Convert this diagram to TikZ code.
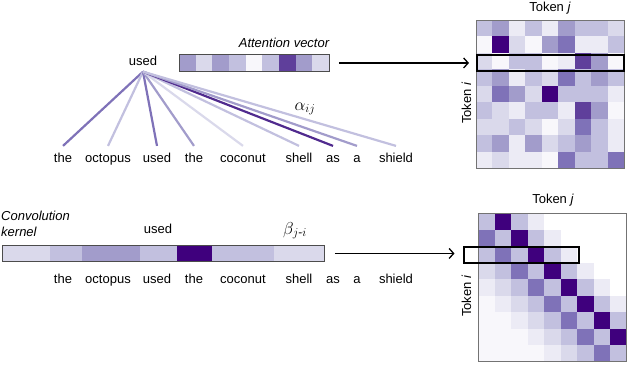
\documentclass[tikz,border=0pt]{standalone}
\usepackage{amsmath}
\usepackage{fontspec}
\setmainfont{Liberation Sans}
\usetikzlibrary{arrows.meta}
% Purples scale, light to dark
\definecolor{puw}{HTML}{FFFFFF}
\definecolor{pu0}{HTML}{F8F7FB}
\definecolor{pu1}{HTML}{ECEBF5}
\definecolor{pu2}{HTML}{DAD9EB}
\definecolor{pu3}{HTML}{C2C0DF}
\definecolor{pu4}{HTML}{A29CCB}
\definecolor{pu5}{HTML}{7F72B8}
\definecolor{pu6}{HTML}{5F3F9B}
\definecolor{pu7}{HTML}{502A8E}
\definecolor{pu8}{HTML}{3F007D}
\tikzset{
  word/.style={font=\fontsize{13}{15}\selectfont, anchor=base, inner xsep=1pt,
    inner ysep=6.5pt, text height=9.4pt, text depth=0pt},
  ital/.style={font=\fontsize{13}{16}\selectfont\itshape},
  bar/.style={draw=black!70, line width=0.9pt, inner sep=0pt},
  rowbox/.style={draw=black, line width=2.4pt, inner sep=0pt},
  frame/.style={draw=black!55, line width=0.9pt},
  arr/.style={line width=1.3pt, -{Straight Barb[length=4.5pt,width=10pt]}},
  wt/.style={line width=2.2pt}
}
\begin{document}
\begin{tikzpicture}[x=1pt, y=-1pt]
  \useasboundingbox (0,0) rectangle (640,380);
  \def\cs{16.45}
  \def\ds{16.5}

  % attention: query word and the sentence
  \node[word] (src) at (143,65) {used};
  \foreach \x/\w [count=\k] in {63/the, 108/octopus, 157/used, 194/the, 243/coconut,
      299/shell, 333/as, 357/a, 396/shield}
    \node[word] (t\k) at (\x,162) {\w};
  \foreach \k/\c in {1/pu5, 2/pu3, 3/pu5, 4/pu4, 5/pu2, 6/pu3, 7/pu7, 8/pu4, 9/pu3}
    \draw[wt, \c] (src.south) -- (t\k.north);
  \node[font=\fontsize{17}{20}\selectfont, anchor=base] (alpha) at (305,110) {$\alpha_{ij}$};

  % attention vector
  \foreach \v [count=\j from 0] in {4,2,4,3,0,3,6,4,2}
    \fill[pu\v] ({179+\j*16.67},54) rectangle ++(16.67,17);
  \node[bar, minimum width=150pt, minimum height=17pt, anchor=north west] (attbar) at (179,54) {};
  \node[ital, anchor=base] (attlbl) at (284,47) {Attention vector};

  % attention matrix
  \foreach \row [count=\i from 0] in {
      {3,4,1,3,1,4,3,3,2},
      {0,8,2,0,4,5,1,1,3},
      {2,0,3,3,0,1,6,4,0},
      {3,4,1,3,2,5,3,4,3},
      {2,5,4,2,8,3,3,3,1},
      {3,2,1,3,3,1,6,4,0},
      {2,2,3,2,0,2,5,3,1},
      {3,4,1,4,2,3,4,3,1},
      {1,2,1,1,0,5,3,3,5}}
    \foreach \v [count=\j from 0] in \row
      \fill[pu\v] ({476+\j*\cs},{20+\i*\cs}) rectangle ++(\cs,\cs);
  \draw[frame] (476,20) rectangle ++({9*\cs},{9*\cs});
  \node[rowbox, minimum width=147pt, minimum height=16.5pt, anchor=north west] (rowA) at (476,53.5) {};
  \node[word, inner ysep=0pt] (tjA) at (550,11) {Token \textit{j}};
  \node[word, inner ysep=0pt, rotate=90] (tiA) at (471,103) {Token \textit{i}};
  \draw[arr, shorten <=9pt, shorten >=7pt] (attbar.east) -- (attbar.east -| rowA.west);

  % convolution kernel
  \foreach \a/\b/\v in {2/50/2, 50/82/3, 82/140/4, 140/177/3, 177/212/8, 212/274/3, 274/324/2}
    \fill[pu\v] (\a,245) rectangle (\b,261);
  \node[bar, minimum width=322pt, minimum height=16pt, anchor=north west] (kernbar) at (2,245) {};
  \node[ital, align=left, anchor=north west, inner sep=0pt] (convlbl) at (1,211) {Convolution\\kernel};
  \node[word] (cused) at (158,233) {used};
  \node[font=\fontsize{17}{20}\selectfont, anchor=base] (beta) at (295,234) {$\beta_{j\text{-}i}$};
  \foreach \x/\w [count=\k] in {63/the, 108/octopus, 157/used, 194/the, 243/coconut,
      299/shell, 333/as, 357/a, 396/shield}
    \node[word] (b\k) at (\x,283) {\w};

  % convolution matrix
  \foreach \row [count=\i from 0] in {
      {3,8,3,1,w,w,w,w,w},
      {5,3,8,3,1,w,w,w,w},
      {3,5,3,8,3,1,w,w,w},
      {2,3,5,3,8,3,1,w,w},
      {1,2,3,5,3,8,3,1,w},
      {0,1,2,3,5,3,8,3,1},
      {0,0,1,2,3,5,3,8,3},
      {0,0,0,1,2,3,5,3,8},
      {0,0,0,0,1,2,3,5,3}}
    \foreach \v [count=\j from 0] in \row
      \fill[pu\v] ({478+\j*\ds},{213+\i*\ds}) rectangle ++(\ds,\ds);
  \draw[frame] (478,213) rectangle ++({9*\ds},{9*\ds});
  \node[rowbox, minimum width=115pt, minimum height=16pt, anchor=north west] (rowB) at (462.5,246) {};
  \node[word, inner ysep=0pt] (tjB) at (553,203) {Token \textit{j}};
  \node[word, inner ysep=0pt, rotate=90] (tiB) at (471,296) {Token \textit{i}};
  \draw[arr, shorten <=10pt, shorten >=8pt] (kernbar.east) -- (kernbar.east -| rowB.west);
\end{tikzpicture}
\end{document}
